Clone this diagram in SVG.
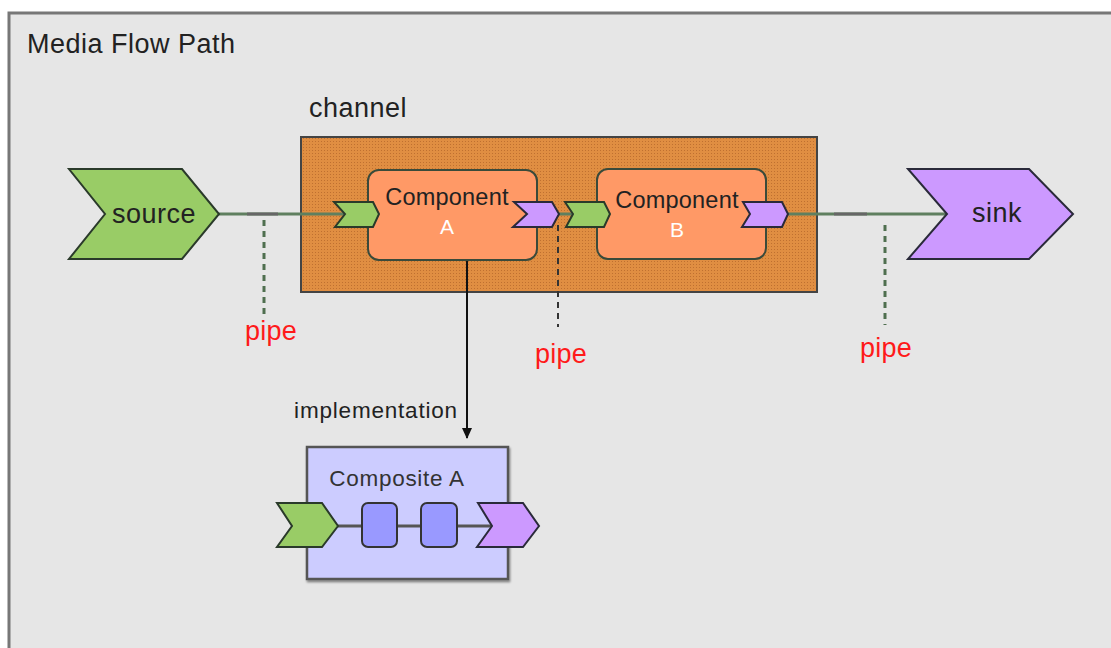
<svg xmlns="http://www.w3.org/2000/svg" width="1111" height="648" viewBox="0 0 1111 648">
<style>
text{font-family:"Liberation Sans",Arial,sans-serif;}
.lbl{fill:#222;font-size:27px;letter-spacing:0.5px;}
.cmp{fill:#222;font-size:23.5px;letter-spacing:0.2px;text-anchor:middle;}
.cmpw{fill:#fff;font-size:21px;text-anchor:middle;}
.pipe{fill:#ff1a1a;font-size:27px;letter-spacing:0.3px;text-anchor:middle;}
.green{fill:#99cc66;stroke:#2a3a2a;stroke-width:2;stroke-linejoin:miter;}
.purple{fill:#cc99ff;stroke:#2a2a3a;stroke-width:2;stroke-linejoin:miter;}
.comp{fill:#ff9966;stroke:#3a4a3a;stroke-width:2;}
.wire{stroke:#5f7f5f;stroke-width:3;fill:none;}
.wseg{stroke:#666;stroke-width:3;fill:none;}
.pdash{stroke:#4f6f4f;stroke-width:3;stroke-dasharray:6,5;fill:none;}
.pdashk{stroke:#333;stroke-width:2;stroke-dasharray:6,5;fill:none;}
</style>
<defs>
<pattern id="dots" width="3" height="3" patternUnits="userSpaceOnUse">
<rect width="3" height="3" fill="#e08e42"/>
<rect width="1" height="1" fill="#bf7030"/>
</pattern>
<marker id="arr" markerWidth="12" markerHeight="12" refX="10" refY="6" orient="auto" markerUnits="userSpaceOnUse">
<path d="M0,1 L11,6 L0,11 Z" fill="#111"/>
</marker>
<filter id="sh" x="-10%" y="-10%" width="130%" height="130%">
<feDropShadow dx="1" dy="2" stdDeviation="1" flood-color="#000" flood-opacity="0.45"/>
</filter>
</defs>
<rect x="0" y="0" width="1111" height="648" fill="#fff"/>
<g id="frame">
<rect x="9" y="13" width="1110" height="650" fill="#e6e6e6" stroke="#777" stroke-width="3"/>
<text class="lbl" x="27" y="53">Media Flow Path</text>
</g>
<g id="channel">
<rect x="301" y="137" width="516" height="155" fill="url(#dots)" stroke="#444" stroke-width="2"/>
<text class="lbl" x="309" y="117">channel</text>
</g>
<g id="connectors">
<line class="wire" x1="219" y1="214" x2="345" y2="214"/>
<line class="wseg" x1="247" y1="214" x2="278" y2="214"/>
<line class="wire" x1="559" y1="214" x2="573" y2="214"/>
<line class="wire" x1="788" y1="214" x2="947" y2="214"/>
<line class="wseg" x1="834" y1="214" x2="867" y2="214"/>
<line class="pdash" x1="264" y1="220" x2="264" y2="318"/>
<line class="pdashk" x1="558" y1="225" x2="558" y2="327"/>
<line class="pdash" x1="885" y1="225" x2="885" y2="325"/>
<line x1="467" y1="233" x2="467" y2="438" stroke="#111" stroke-width="2" marker-end="url(#arr)"/>
</g>
<g id="source">
<polygon class="green" points="69,169 182,169 219,214 182,259 69,259 105,214"/>
<text class="lbl" x="154" y="223" text-anchor="middle">source</text>
</g>
<g id="sink">
<polygon class="purple" points="908,169 1029,169 1073,214 1029,259 908,259 947,214"/>
<text class="lbl" x="997" y="222" text-anchor="middle">sink</text>
</g>
<g id="componentA">
<rect class="comp" x="368" y="170" width="169" height="90" rx="11"/>
<text class="cmp" x="447" y="205">Component</text>
<text class="cmpw" x="447" y="234">A</text>
<polygon class="green" points="334,202 373,202 379,214 373,227 335,227 345,214"/>
<polygon class="purple" points="514,202 552,202 559,214 552,227 513,227 527,214"/>
</g>
<g id="componentB">
<rect class="comp" x="597" y="169" width="169" height="90" rx="11"/>
<text class="cmp" x="677" y="208">Component</text>
<text class="cmpw" x="677" y="237">B</text>
<polygon class="green" points="565,202 604,202 610,214 604,227 566,227 573,214"/>
<polygon class="purple" points="743,202 782,202 788,214 782,227 742,227 750,214"/>
</g>
<g id="pipes">
<text class="pipe" x="271" y="340">pipe</text>
<text class="pipe" x="561" y="363">pipe</text>
<text class="pipe" x="886" y="357">pipe</text>
<text x="376" y="418" font-size="22.5" letter-spacing="0.8" fill="#222" text-anchor="middle">implementation</text>
</g>
<g id="compositeA">
<rect x="307" y="447" width="201" height="132" fill="#ccccff" stroke="#555" stroke-width="2.5" filter="url(#sh)"/>
<text x="397" y="486" font-size="22.5" letter-spacing="0.7" fill="#333" text-anchor="middle">Composite A</text>
<line x1="338" y1="526" x2="492" y2="526" stroke="#555" stroke-width="3"/>
<rect x="362" y="503" width="35" height="44" rx="6" fill="#9999ff" stroke="#333" stroke-width="2"/>
<rect x="421" y="503" width="36" height="44" rx="6" fill="#9999ff" stroke="#333" stroke-width="2"/>
<polygon class="green" points="277,503 322,503 338,526 322,547 277,547 292,526"/>
<polygon class="purple" points="478,503 523,503 539,526 523,547 477,547 492,526"/>
</g>
</svg>
